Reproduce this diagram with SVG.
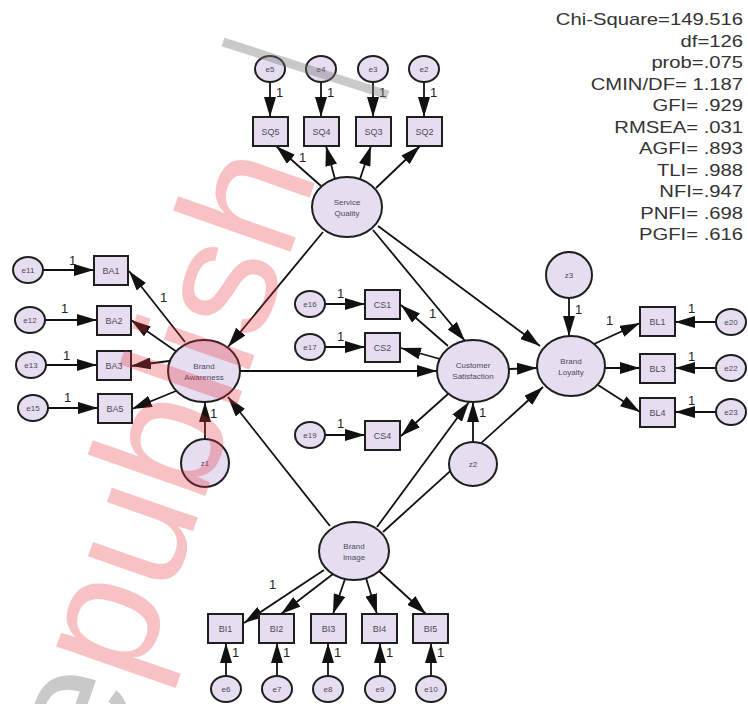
<svg xmlns="http://www.w3.org/2000/svg" width="748" height="704" viewBox="0 0 748 704">
<defs>
<style>
.n{fill:#e6ddf1;stroke:#1e1e1e;stroke-width:2}
.t{font-family:"Liberation Sans",Arial,sans-serif;font-size:9px;fill:#4a4a5a;text-anchor:middle}
.s{font-size:8px}
.c line{stroke:#111;stroke-width:1.8;marker-end:url(#ah)}
.one{font-family:"Liberation Sans",Arial,sans-serif;font-size:13px;fill:#222}
.st{font-family:"Liberation Sans",Arial,sans-serif;font-size:17px;fill:#333;text-anchor:end}
</style>
<marker id="ah" markerUnits="userSpaceOnUse" markerWidth="20" markerHeight="12" refX="20" refY="6" orient="auto">
<path d="M0,0 L20,6 L0,12 z" fill="#111"/>
</marker>
</defs>
<rect width="748" height="704" fill="#fff"/>

<g id="connectors" class="c">
<line x1="270" y1="82" x2="270" y2="117"/>
<line x1="321" y1="82" x2="321" y2="117"/>
<line x1="373" y1="82" x2="373" y2="117"/>
<line x1="424" y1="82" x2="424" y2="117"/>
<line x1="321" y1="186" x2="276" y2="146"/>
<line x1="335" y1="179" x2="326" y2="146"/>
<line x1="360" y1="179" x2="371" y2="146"/>
<line x1="376" y1="188" x2="420" y2="146"/>
<line x1="43" y1="270" x2="94" y2="270"/>
<line x1="45" y1="320" x2="97" y2="320"/>
<line x1="46" y1="365" x2="97" y2="365"/>
<line x1="48" y1="408" x2="98" y2="408"/>
<line x1="185" y1="342" x2="129" y2="271"/>
<line x1="177" y1="352" x2="131" y2="320"/>
<line x1="169" y1="361" x2="131" y2="366"/>
<line x1="176" y1="391" x2="132" y2="409"/>
<line x1="205" y1="439" x2="205" y2="402"/>
<line x1="323" y1="232" x2="228" y2="347"/>
<line x1="330" y1="526" x2="228" y2="397"/>
<line x1="240" y1="371" x2="437" y2="371"/>
<line x1="373" y1="230" x2="465" y2="341"/>
<line x1="378" y1="226" x2="540" y2="346"/>
<line x1="325" y1="304" x2="365" y2="304"/>
<line x1="325" y1="347" x2="365" y2="347"/>
<line x1="325" y1="435" x2="365" y2="435"/>
<line x1="448" y1="346" x2="401" y2="305"/>
<line x1="440" y1="359" x2="401" y2="348"/>
<line x1="448" y1="394" x2="401" y2="436"/>
<line x1="509" y1="369" x2="537" y2="368"/>
<line x1="569" y1="298" x2="569" y2="336"/>
<line x1="594" y1="344" x2="640" y2="323"/>
<line x1="605" y1="368" x2="640" y2="368"/>
<line x1="598" y1="385" x2="640" y2="412"/>
<line x1="716" y1="322" x2="675" y2="322"/>
<line x1="716" y1="368" x2="675" y2="368"/>
<line x1="716" y1="412" x2="675" y2="412"/>
<line x1="377" y1="527" x2="469" y2="402"/>
<line x1="383" y1="532" x2="543" y2="387"/>
<line x1="473" y1="442" x2="473" y2="402"/>
<line x1="324" y1="570" x2="244" y2="623"/>
<line x1="333" y1="574" x2="281" y2="614"/>
<line x1="345" y1="579" x2="333" y2="614"/>
<line x1="366" y1="578" x2="377" y2="614"/>
<line x1="379" y1="571" x2="426" y2="614"/>
<line x1="226" y1="676" x2="226" y2="643"/>
<line x1="277" y1="676" x2="277" y2="643"/>
<line x1="328" y1="676" x2="328" y2="643"/>
<line x1="380" y1="676" x2="380" y2="643"/>
<line x1="431" y1="676" x2="431" y2="643"/>
</g>

<g id="labels">
<text class="one" x="276" y="97">1</text>
<text class="one" x="327" y="97">1</text>
<text class="one" x="379" y="97">1</text>
<text class="one" x="430" y="97">1</text>
<text class="one" x="299" y="162">1</text>
<text class="one" x="69" y="265">1</text>
<text class="one" x="61" y="313">1</text>
<text class="one" x="63" y="360">1</text>
<text class="one" x="64" y="402">1</text>
<text class="one" x="160" y="302">1</text>
<text class="one" x="210" y="418">1</text>
<text class="one" x="337" y="298">1</text>
<text class="one" x="337" y="341">1</text>
<text class="one" x="337" y="428">1</text>
<text class="one" x="429" y="318">1</text>
<text class="one" x="479" y="417">1</text>
<text class="one" x="575" y="314">1</text>
<text class="one" x="606" y="325">1</text>
<text class="one" x="688" y="313">1</text>
<text class="one" x="688" y="361">1</text>
<text class="one" x="688" y="405">1</text>
<text class="one" x="269" y="589">1</text>
<text class="one" x="232" y="657">1</text>
<text class="one" x="283" y="657">1</text>
<text class="one" x="334" y="657">1</text>
<text class="one" x="386" y="657">1</text>
<text class="one" x="437" y="657">1</text>
</g>

<g id="e5"><ellipse class="n" cx="270" cy="69" rx="15" ry="13"/><text class="t s" x="270" y="72">e5</text></g>
<g id="e4"><ellipse class="n" cx="321" cy="69" rx="15" ry="13"/><text class="t s" x="321" y="72">e4</text></g>
<g id="e3"><ellipse class="n" cx="373" cy="69" rx="15" ry="13"/><text class="t s" x="373" y="72">e3</text></g>
<g id="e2"><ellipse class="n" cx="424" cy="69" rx="15" ry="13"/><text class="t s" x="424" y="72">e2</text></g>
<g id="SQ5"><rect class="n" x="253" y="117" width="35" height="29"/><text class="t" x="270.5" y="135">SQ5</text></g>
<g id="SQ4"><rect class="n" x="304" y="117" width="35" height="29"/><text class="t" x="321.5" y="135">SQ4</text></g>
<g id="SQ3"><rect class="n" x="356" y="117" width="35" height="29"/><text class="t" x="373.5" y="135">SQ3</text></g>
<g id="SQ2"><rect class="n" x="407" y="117" width="35" height="29"/><text class="t" x="424.5" y="135">SQ2</text></g>
<g id="ServiceQuality"><ellipse class="n" cx="347" cy="207" rx="35" ry="30"/><text class="t s" x="347" y="205">Service</text><text class="t s" x="347" y="216">Quality</text></g>

<g id="e11"><ellipse class="n" cx="28" cy="270" rx="15" ry="13"/><text class="t s" x="28" y="273">e11</text></g>
<g id="e12"><ellipse class="n" cx="30" cy="320" rx="15" ry="13"/><text class="t s" x="30" y="323">e12</text></g>
<g id="e13"><ellipse class="n" cx="31" cy="365" rx="15" ry="13"/><text class="t s" x="31" y="368">e13</text></g>
<g id="e15"><ellipse class="n" cx="33" cy="408" rx="15" ry="13"/><text class="t s" x="33" y="411">e15</text></g>
<g id="BA1"><rect class="n" x="94" y="256" width="34" height="29"/><text class="t" x="111" y="274">BA1</text></g>
<g id="BA2"><rect class="n" x="97" y="306" width="34" height="29"/><text class="t" x="114" y="324">BA2</text></g>
<g id="BA3"><rect class="n" x="97" y="351" width="34" height="29"/><text class="t" x="114" y="369">BA3</text></g>
<g id="BA5"><rect class="n" x="98" y="394" width="34" height="29"/><text class="t" x="115" y="412">BA5</text></g>
<g id="BrandAwareness"><ellipse class="n" cx="204" cy="371" rx="36" ry="31"/><text class="t s" x="204" y="369">Brand</text><text class="t s" x="204" y="380">Awareness</text></g>
<g id="z1"><ellipse class="n" cx="205" cy="463" rx="24" ry="24"/><text class="t s" x="205" y="466">z1</text></g>

<g id="e16"><ellipse class="n" cx="310" cy="304" rx="15" ry="13"/><text class="t s" x="310" y="307">e16</text></g>
<g id="e17"><ellipse class="n" cx="310" cy="347" rx="15" ry="13"/><text class="t s" x="310" y="350">e17</text></g>
<g id="e19"><ellipse class="n" cx="310" cy="435" rx="15" ry="13"/><text class="t s" x="310" y="438">e19</text></g>
<g id="CS1"><rect class="n" x="365" y="290" width="35" height="29"/><text class="t" x="382.5" y="308">CS1</text></g>
<g id="CS2"><rect class="n" x="365" y="333" width="35" height="29"/><text class="t" x="382.5" y="351">CS2</text></g>
<g id="CS4"><rect class="n" x="365" y="421" width="35" height="29"/><text class="t" x="382.5" y="439">CS4</text></g>
<g id="CustomerSatisfaction"><ellipse class="n" cx="473" cy="371" rx="36" ry="31"/><text class="t s" x="473" y="368">Customer</text><text class="t s" x="473" y="379">Satisfaction</text></g>
<g id="z2"><ellipse class="n" cx="473" cy="464" rx="24" ry="22"/><text class="t s" x="473" y="467">z2</text></g>

<g id="z3"><ellipse class="n" cx="569" cy="275" rx="23" ry="23"/><text class="t s" x="569" y="278">z3</text></g>
<g id="BrandLoyalty"><ellipse class="n" cx="571" cy="366" rx="34" ry="30"/><text class="t s" x="571" y="364">Brand</text><text class="t s" x="571" y="375">Loyalty</text></g>
<g id="BL1"><rect class="n" x="640" y="307" width="35" height="29"/><text class="t" x="657.5" y="325">BL1</text></g>
<g id="BL3"><rect class="n" x="640" y="354" width="35" height="29"/><text class="t" x="657.5" y="372">BL3</text></g>
<g id="BL4"><rect class="n" x="640" y="398" width="35" height="29"/><text class="t" x="657.5" y="416">BL4</text></g>
<g id="e20"><ellipse class="n" cx="731" cy="322" rx="15" ry="13"/><text class="t s" x="731" y="325">e20</text></g>
<g id="e22"><ellipse class="n" cx="731" cy="368" rx="15" ry="13"/><text class="t s" x="731" y="371">e22</text></g>
<g id="e23"><ellipse class="n" cx="731" cy="412" rx="15" ry="13"/><text class="t s" x="731" y="415">e23</text></g>

<g id="BrandImage"><ellipse class="n" cx="354" cy="551" rx="35" ry="29"/><text class="t s" x="354" y="549">Brand</text><text class="t s" x="354" y="560">Image</text></g>
<g id="BI1"><rect class="n" x="208" y="614" width="35" height="29"/><text class="t" x="225.5" y="632">BI1</text></g>
<g id="BI2"><rect class="n" x="259" y="614" width="35" height="29"/><text class="t" x="276.5" y="632">BI2</text></g>
<g id="BI3"><rect class="n" x="311" y="614" width="35" height="29"/><text class="t" x="328.5" y="632">BI3</text></g>
<g id="BI4"><rect class="n" x="362" y="614" width="35" height="29"/><text class="t" x="379.5" y="632">BI4</text></g>
<g id="BI5"><rect class="n" x="413" y="614" width="35" height="29"/><text class="t" x="430.5" y="632">BI5</text></g>
<g id="e6"><ellipse class="n" cx="226" cy="689" rx="15" ry="13"/><text class="t s" x="226" y="692">e6</text></g>
<g id="e7"><ellipse class="n" cx="277" cy="689" rx="15" ry="13"/><text class="t s" x="277" y="692">e7</text></g>
<g id="e8"><ellipse class="n" cx="328" cy="689" rx="15" ry="13"/><text class="t s" x="328" y="692">e8</text></g>
<g id="e9"><ellipse class="n" cx="380" cy="689" rx="15" ry="13"/><text class="t s" x="380" y="692">e9</text></g>
<g id="e10"><ellipse class="n" cx="431" cy="689" rx="15" ry="13"/><text class="t s" x="431" y="692">e10</text></g>

<g id="fit" transform="translate(743,0) scale(1.19,1)">
<text class="st" x="0" y="25">Chi-Square=149.516</text>
<text class="st" x="0" y="47">df=126</text>
<text class="st" x="0" y="68">prob=.075</text>
<text class="st" x="0" y="90">CMIN/DF= 1.187</text>
<text class="st" x="0" y="111">GFI= .929</text>
<text class="st" x="0" y="133">RMSEA= .031</text>
<text class="st" x="0" y="154">AGFI= .893</text>
<text class="st" x="0" y="176">TLI= .988</text>
<text class="st" x="0" y="197">NFI=.947</text>
<text class="st" x="0" y="219">PNFI= .698</text>
<text class="st" x="0" y="240">PGFI= .616</text>
</g>

<g id="watermark">
<line x1="223" y1="42" x2="388" y2="95" stroke="#777" stroke-opacity="0.4" stroke-width="9"/>
<text x="-95.6" y="0" transform="translate(138.3,687.2) rotate(-70.7)" font-family="'Liberation Sans',Arial,sans-serif" font-size="172"><tspan fill="#777" fill-opacity="0.4">e</tspan><tspan fill="#e8323c" fill-opacity="0.3">publish</tspan></text>
</g>
</svg>
